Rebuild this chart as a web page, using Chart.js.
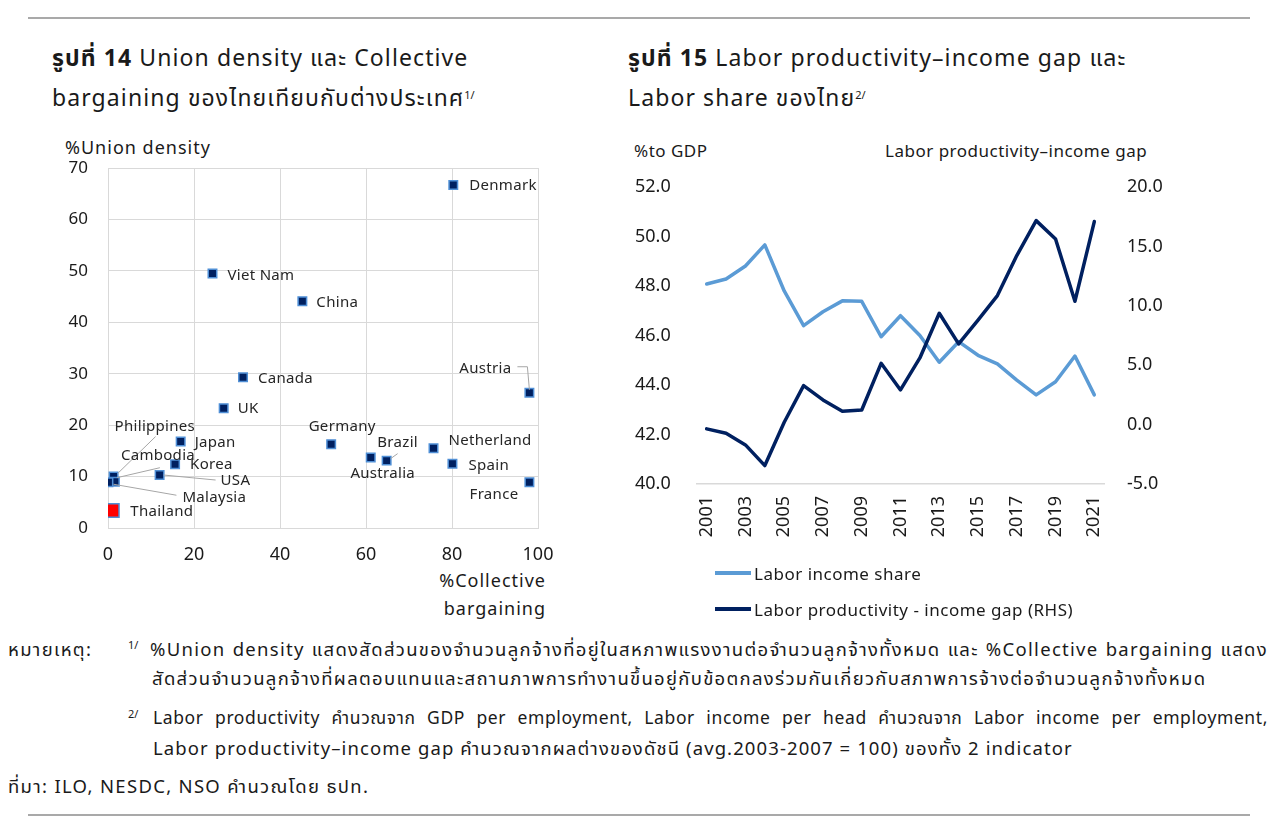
<!DOCTYPE html>
<html>
<head>
<meta charset="utf-8">
<script src="https://cdn.jsdelivr.net/npm/chart.js@4.4.1/dist/chart.umd.min.js"></script>
<style>
  body { margin: 0; width: 1280px; height: 831px; background: #fff; position: relative; overflow: hidden;
         font-family: "Noto Sans", "Noto Sans Thai", sans-serif; color: #1a1a1a; }
  .abs { position: absolute; white-space: nowrap; }
  .rule { position: absolute; left: 28px; width: 1222px; height: 2px; background: #a9a9a9; }
  .title { font-size: 23px; line-height: 40px; letter-spacing: 1.1px; }
  .title b { font-weight: 700; }
  .axt { font-size: 17px; letter-spacing: 0.5px; }
  .axl { font-size: 18px; letter-spacing: 1px; }
  .note { font-size: 18.5px; line-height: 29px; letter-spacing: 1.3px; }
  .note.latin { font-size: 17.5px; letter-spacing: 0.6px; }
  .note.mixed { letter-spacing: 1.1px; }
  sup { font-size: 11px; vertical-align: 7px; line-height: 0; letter-spacing: 0; }
  .just { text-align: justify; text-align-last: justify; white-space: normal; }
  .leg { font-size: 17px; letter-spacing: 0.5px; display: flex; align-items: center; }
  .leg i { display: inline-block; width: 36px; height: 4px; margin-right: 3px; }
</style>
</head>
<body>
<div class="rule" style="top:17px"></div>
<div class="rule" style="top:814px"></div>

<div class="abs title" style="left:52px;top:37px"><b>รูปที่ 14</b> Union density และ Collective</div>
<div class="abs title" style="left:52px;top:77px">bargaining ของไทยเทียบกับต่างประเทศ<sup>1/</sup></div>
<div class="abs title" style="left:628px;top:37px"><b>รูปที่ 15</b> Labor productivity–income gap และ</div>
<div class="abs title" style="left:628px;top:77px">Labor share ของไทย<sup>2/</sup></div>

<div class="abs axl" style="left:65px;top:135px">%Union density</div>
<div class="abs axl" style="left:405px;top:568px;width:141px;text-align:right">%Collective</div>
<div class="abs axl" style="left:405px;top:596px;width:141px;text-align:right">bargaining</div>

<div class="abs axt" style="left:634px;top:139px">%to GDP</div>
<div class="abs axt" style="left:885px;top:139px">Labor productivity–income gap</div>

<canvas id="scatterChart" class="abs" style="left:40px;top:130px;width:530px;height:490px"></canvas>
<canvas id="lineChart" class="abs" style="left:620px;top:130px;width:560px;height:500px"></canvas>

<div id="legend" class="abs" style="left:715px;top:555px"></div>

<div class="abs note" style="left:8px;top:634px">หมายเหตุ:</div>
<div class="abs note" style="left:128px;top:634px"><sup>1/</sup></div>
<div class="abs note just" style="left:150px;top:634px;width:1118px">%Union density แสดงสัดส่วนของจำนวนลูกจ้างที่อยู่ในสหภาพแรงงานต่อจำนวนลูกจ้างทั้งหมด และ %Collective bargaining แสดง</div>
<div class="abs note" style="left:152px;top:663px">สัดส่วนจำนวนลูกจ้างที่ผลตอบแทนและสถานภาพการทำงานขึ้นอยู่กับข้อตกลงร่วมกันเกี่ยวกับสภาพการจ้างต่อจำนวนลูกจ้างทั้งหมด</div>
<div class="abs note" style="left:128px;top:703px"><sup>2/</sup></div>
<div class="abs note latin just" style="left:153px;top:703px;width:1115px">Labor productivity คำนวณจาก GDP per employment, Labor income per head คำนวณจาก Labor income per employment,</div>
<div class="abs note mixed" style="left:153px;top:733px">Labor productivity–income gap คำนวณจากผลต่างของดัชนี (avg.2003-2007 = 100) ของทั้ง 2 indicator</div>
<div class="abs note" style="left:8px;top:771px">ที่มา: ILO, NESDC, NSO คำนวณโดย ธปท.</div>

<script>
// ---- figure 14 data ----
const countries = ['Denmark', 'Viet Nam', 'China', 'Canada', 'UK', 'Japan', 'Korea', 'USA',
  'Philippines', 'Cambodia', 'Malaysia', 'Germany', 'Australia', 'Brazil', 'Netherland', 'Spain', 'France', 'Austria'];
const collectiveBargaining = [80.3, 24.3, 45.2, 31.4, 26.9, 16.9, 15.6, 12.0,
  1.3, 1.6, 0.1, 51.9, 61.1, 64.8, 75.7, 80.1, 98.0, 98.0];
const unionDensity = [66.7, 49.5, 44.1, 29.3, 23.3, 16.8, 12.4, 10.3,
  10.0, 9.0, 8.9, 16.3, 13.7, 13.1, 15.5, 12.5, 8.9, 26.3];
const thaiBargaining = [1.0];
const thaiUnion = [3.4];
const xTicks = [0, 20, 40, 60, 80, 100];
const yTicks = [0, 10, 20, 30, 40, 50, 60, 70];

// ---- figure 15 data ----
const years = ['2001', '2002', '2003', '2004', '2005', '2006', '2007', '2008', '2009', '2010', '2011',
  '2012', '2013', '2014', '2015', '2016', '2017', '2018', '2019', '2020', '2021'];
const laborIncomeShare = [48.08, 48.28, 48.81, 49.66, 47.8, 46.4, 46.96, 47.4, 47.38, 45.95, 46.8,
  46.0, 44.92, 45.75, 45.2, 44.85, 44.2, 43.6, 44.13, 45.17, 43.6];
const productivityGap = [-0.36, -0.73, -1.71, -3.45, 0.2, 3.28, 2.08, 1.12, 1.23, 5.16, 2.92,
  5.61, 9.37, 6.79, 8.8, 10.86, 14.23, 17.17, 15.63, 10.38, 17.09];
const leftTicks = [40, 42, 44, 46, 48, 50, 52];
const rightTicks = [-5, 0, 5, 10, 15, 20];

const FONT = '"Noto Sans", "Noto Sans Thai", sans-serif';
const NAVY = '#002060';
const LIGHT = '#5b9bd5';
const GRID = '#d9d9d9';

// where each country's name sits relative to its marker (px), plus optional leader line
const labelPlacement = {
  'Denmark':     { dx: 16, dy: 1 },
  'Viet Nam':    { dx: 15, dy: 2 },
  'China':       { dx: 14, dy: 2 },
  'Canada':      { dx: 15, dy: 1 },
  'UK':          { dx: 14, dy: 1 },
  'Japan':       { dx: 14, dy: 1 },
  'Korea':       { dx: 15, dy: 1 },
  'USA':         { dx: 61, dy: 6, leader: [[4, 0], [56, 5]] },
  'Philippines': { dx: 1, dy: -50, leader: [[4, -3], [42, -40]] },
  'Cambodia':    { dx: 6, dy: -26, leader: [[2, -4], [45, -14]] },
  'Malaysia':    { dx: 74, dy: 16, leader: [[5, 2], [68, 13]] },
  'Germany':     { dx: 11, dy: -17, align: 'center' },
  'Australia':   { dx: 12, dy: 16, align: 'center' },
  'Brazil':      { dx: 11, dy: -18, align: 'center', leader: [[4, -2], [11, -7]] },
  'Netherland':  { dx: 15, dy: -8 },
  'Spain':       { dx: 16, dy: 2 },
  'France':      { dx: -11, dy: 13, align: 'right' },
  'Austria':     { dx: -18, dy: -24, align: 'right', leader: [[-12, -26], [-2, -26], [0, -3]] },
  'Thailand':    { dx: 18, dy: 1 }
};

const pointLabels = {
  id: 'pointLabels',
  afterDatasetsDraw(chart) {
    const ctx = chart.ctx;
    ctx.save();
    ctx.font = '15px ' + FONT;
    ctx.letterSpacing = '0.3px';
    ctx.fillStyle = '#262626';
    ctx.textBaseline = 'middle';
    chart.data.datasets.forEach((ds, di) => {
      chart.getDatasetMeta(di).data.forEach((el, i) => {
        const name = ds.names[i];
        const p = labelPlacement[name];
        if (!p) return;
        if (p.leader) {
          ctx.strokeStyle = '#a6a6a6';
          ctx.lineWidth = 1;
          ctx.beginPath();
          p.leader.forEach(([lx, ly], k) => {
            if (k === 0) ctx.moveTo(el.x + lx, el.y + ly);
            else ctx.lineTo(el.x + lx, el.y + ly);
          });
          ctx.stroke();
        }
        ctx.textAlign = p.align || 'left';
        ctx.fillText(name, el.x + p.dx, el.y + p.dy);
      });
    });
    ctx.restore();
  }
};

new Chart(document.getElementById('scatterChart'), {
  type: 'scatter',
  data: {
    datasets: [
      {
        names: countries,
        data: collectiveBargaining.map((x, i) => ({ x: x, y: unionDensity[i] })),
        pointStyle: 'rect',
        radius: 6,
        backgroundColor: NAVY,
        borderColor: '#4f8fd6',
        borderWidth: 1.5
      },
      {
        names: ['Thailand'],
        data: thaiBargaining.map((x, i) => ({ x: x, y: thaiUnion[i] })),
        pointStyle: 'rect',
        radius: 9.5,
        backgroundColor: '#ff0000',
        borderColor: '#4f8fd6',
        borderWidth: 1.5
      }
    ]
  },
  options: {
    responsive: false,
    animation: false,
    layout: { padding: { top: 38, right: 32, left: 0, bottom: 0 } },
    plugins: { legend: { display: false }, tooltip: { enabled: false } },
    scales: {
      x: {
        type: 'linear', min: 0, max: 100,
        afterBuildTicks: s => { s.ticks = xTicks.map(v => ({ value: v })); },
        afterFit: s => { s.height = 92; },
        grid: { color: GRID, drawTicks: false },
        border: { color: GRID },
        ticks: { padding: 16, color: '#1a1a1a', font: { family: FONT, size: 18 } }
      },
      y: {
        type: 'linear', min: 0, max: 70,
        afterBuildTicks: s => { s.ticks = yTicks.map(v => ({ value: v })); },
        afterFit: s => { s.width = 68; },
        grid: { color: GRID, drawTicks: false },
        border: { color: GRID },
        ticks: { padding: 20, color: '#1a1a1a', font: { family: FONT, size: 17 } }
      }
    }
  },
  plugins: [pointLabels]
});

const lineChart = new Chart(document.getElementById('lineChart'), {
  type: 'line',
  data: {
    labels: years,
    datasets: [
      {
        label: 'Labor income share',
        data: laborIncomeShare,
        yAxisID: 'y',
        borderColor: LIGHT,
        borderWidth: 3.5,
        pointRadius: 0,
        tension: 0,
        order: 2
      },
      {
        label: 'Labor productivity - income gap (RHS)',
        data: productivityGap,
        yAxisID: 'y1',
        borderColor: NAVY,
        borderWidth: 3.5,
        pointRadius: 0,
        tension: 0,
        order: 1
      }
    ]
  },
  options: {
    responsive: false,
    animation: false,
    layout: { padding: { top: 57, right: 16, left: 15, bottom: 0 } },
    plugins: { legend: { display: false }, tooltip: { enabled: false } },
    elements: { line: { borderJoinStyle: 'round', borderCapStyle: 'round' } },
    scales: {
      x: {
        offset: true,
        afterFit: s => { s.height = 146; },
        grid: { display: false, drawTicks: false },
        border: { color: GRID, width: 1.5 },
        ticks: {
          autoSkip: false, maxRotation: 90, minRotation: 90, padding: 12,
          color: '#1a1a1a', font: { family: FONT, size: 18 },
          callback: (v, i) => (i % 2 === 0 ? years[i] : '')
        }
      },
      y: {
        position: 'left', min: 40, max: 52,
        afterBuildTicks: s => { s.ticks = leftTicks.map(v => ({ value: v })); },
        afterFit: s => { s.width = 62; },
        grid: { display: false, drawTicks: false },
        border: { display: false },
        ticks: {
          crossAlign: 'far', color: '#1a1a1a', font: { family: FONT, size: 18 },
          callback: v => v.toFixed(1)
        }
      },
      y1: {
        position: 'right', min: -5, max: 20,
        afterBuildTicks: s => { s.ticks = rightTicks.map(v => ({ value: v })); },
        afterFit: s => { s.width = 60; },
        grid: { display: false, drawTicks: false },
        border: { display: false },
        ticks: {
          padding: 23, color: '#1a1a1a', font: { family: FONT, size: 18 },
          callback: v => v.toFixed(1)
        }
      }
    }
  }
});

// HTML legend, stacked in two rows like the source
const legendBox = document.getElementById('legend');
lineChart.data.datasets.forEach(ds => {
  const row = document.createElement('div');
  row.className = 'leg';
  row.style.height = '36px';
  row.innerHTML = '<i style="background:' + ds.borderColor + '"></i><span>' + ds.label + '</span>';
  legendBox.appendChild(row);
});
</script>
</body>
</html>
